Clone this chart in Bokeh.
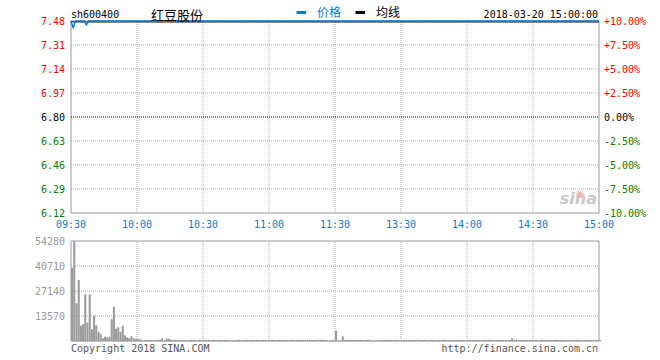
from bokeh.plotting import figure
from bokeh.models import (ColumnDataSource, LabelSet, Label, Legend, LegendItem,
                          Range1d)
from bokeh.embed import file_html
from bokeh.resources import INLINE
from bokeh.core.properties import value

# ---------------- data ----------------
symbol = "sh600400"
stock_name = "红豆股份"
stamp = "2018-03-20 15:00:00"
prev_close = 6.80

price_ticks = [7.48, 7.31, 7.14, 6.97, 6.80, 6.63, 6.46, 6.29, 6.12]
price_labels = ["7.48", "7.31", "7.14", "6.97", "6.80", "6.63", "6.46", "6.29", "6.12"]
pct_labels = ["+10.00%", "+7.50%", "+5.00%", "+2.50%", "0.00%",
              "-2.50%", "-5.00%", "-7.50%", "-10.00%"]
label_colors = ["#ff0000", "#ff0000", "#ff0000", "#ff0000", "#000000",
                "#008000", "#008000", "#008000", "#008000"]

time_ticks = [0, 30, 60, 90, 120, 150, 180, 210, 240]
time_labels = ["09:30", "10:00", "10:30", "11:00", "11:30", "13:30", "14:00", "14:30", "15:00"]

vol_ticks = [0, 13570, 27140, 40710, 54280]
vol_labels = ["", "13570", "27140", "40710", "54280"]

minutes = list(range(241))

price = [7.48, 7.43, 7.48, 7.48, 7.48, 7.48, 7.48, 7.45] + [7.48] * 233
avg_price = [7.476, 7.474] + [7.473] * 239

volume = [
    39600, 54000, 20250, 32950, 8140, 8850, 25130, 9770, 25130, 6130,
    13570, 8300, 4880, 3640, 1250, 2170, 1800, 2170, 11560, 18450,
    6510, 7220, 4880, 8140, 2880, 1800, 1450, 2350, 1250, 900,
    900, 850, 0, 400, 350, 400, 350, 0, 350, 400,
    350, 1250, 0, 1100, 1100, 400, 350, 400, 0, 350,
    400, 350, 0, 350, 400, 350, 350, 0, 400, 350,
    350, 400, 350, 0, 350, 350, 400, 350, 350, 400,
    350, 350, 400, 0, 0, 350, 400, 350, 350, 400,
    350, 400, 350, 350, 400, 350, 350, 400, 350, 0,
    350, 400, 350, 350, 400, 350, 350, 400, 350, 0,
    350, 400, 350, 350, 400, 350, 350, 0, 350, 400,
    350, 350, 400, 350, 350, 400, 0, 0, 350, 0,
    5430, 0, 0, 2330, 350, 400, 350, 350, 400, 350,
    350, 400, 350, 350, 400, 350, 0, 0, 0, 0,
    350, 400, 350, 350, 400, 350, 350, 400, 350, 0,
    350, 400, 350, 350, 400, 350, 350, 400, 350, 350,
    400, 350, 350, 400, 350, 0, 350, 400, 350, 350,
    400, 350, 350, 400, 350, 350, 400, 350, 350, 0,
    350, 400, 350, 350, 400, 350, 0, 350, 400, 350,
    350, 400, 350, 350, 400, 350, 350, 400, 350, 350,
    1300, 350, 400, 350, 350, 400, 350, 350, 400, 350,
    350, 400, 0, 350, 400, 350, 350, 400, 350, 350,
    400, 350, 350, 400, 350, 0, 350, 400, 350, 350,
    400, 350, 350, 400, 350, 350, 400, 350, 350, 400,
    350,
]

# ---------------- style / layout ----------------
BLUE = "#0d7bd0"
GRID = "#aaaaaa"
FRAME = "#999999"
MONO = "DejaVu Sans Mono"
CJK = "Noto Sans CJK SC"
W, H = 660, 360
PX_MIN = 2.2                       # pixels per minute
# frame edges in canvas pixels (half-pixel aligned so 1px lines stay crisp)
X_LEFT, PRICE_TOP, PRICE_BOT = 70.5, 20.5, 212.5
VOL_TOP, VOL_BOT = 240.5, 340.5

t0, t1 = time_ticks[0], time_ticks[-1]
p_hi, p_lo = price_ticks[0], price_ticks[-1]
v_hi, v_lo = vol_ticks[-1], vol_ticks[0]

p_ppu = (PRICE_BOT - PRICE_TOP) / (p_hi - p_lo)
v_ppu = (VOL_BOT - VOL_TOP) / (v_hi - v_lo)

p = figure(width=W, height=H,
           x_range=Range1d(t0 - X_LEFT / PX_MIN, t0 + (W - X_LEFT) / PX_MIN),
           y_range=Range1d(p_lo - (H - PRICE_BOT) / p_ppu, p_hi + PRICE_TOP / p_ppu),
           output_backend="svg", toolbar_location=None,
           min_border=0, outline_line_color=None,
           background_fill_color="white", border_fill_color="white")
p.extra_y_ranges = {"vol": Range1d(v_lo - (H - VOL_BOT) / v_ppu, v_hi + VOL_TOP / v_ppu)}
p.axis.visible = False
p.grid.visible = False

# ---- price panel ----
p.quad(left=[t0], right=[t1], bottom=[p_lo], top=[p_hi],
       fill_color=None, line_color=FRAME, line_width=1)
gx = time_ticks[1:-1]
p.segment(x0=gx, y0=[p_lo] * len(gx), x1=gx, y1=[p_hi] * len(gx),
          line_color=GRID, line_dash="1 1", line_width=1)
gy = [t for t in price_ticks[1:-1] if t != prev_close]
p.segment(x0=[t0] * len(gy), y0=gy, x1=[t1] * len(gy), y1=gy,
          line_color=GRID, line_dash="1 1", line_width=1)
p.segment(x0=[t0], y0=[prev_close], x1=[t1], y1=[prev_close],
          line_color="black", line_dash="1 1", line_width=1)

p.line(minutes, avg_price, color="black", line_width=1)
p.line(minutes, price, color=BLUE, line_width=1.5)

lbl_src = ColumnDataSource(dict(xl=[t0] * len(price_ticks), xr=[t1] * len(price_ticks),
                                y=price_ticks, pl=price_labels, pc=pct_labels, c=label_colors))
p.add_layout(LabelSet(x="xl", y="y", text="pl", source=lbl_src, text_color="c",
                      x_offset=-6, text_align="right", text_baseline="middle",
                      text_font=value(MONO), text_font_size="10px"))
p.add_layout(LabelSet(x="xr", y="y", text="pc", source=lbl_src, text_color="c",
                      x_offset=5, text_align="left", text_baseline="middle",
                      text_font=value(MONO), text_font_size="10px"))

t_src = ColumnDataSource(dict(x=time_ticks, y=[p_lo] * len(time_ticks), t=time_labels))
p.add_layout(LabelSet(x="x", y="y", text="t", source=t_src, text_color=BLUE,
                      y_offset=-11, text_align="center", text_baseline="middle",
                      text_font=value(MONO), text_font_size="10px"))

p.add_layout(Label(x=t0, y=p_hi, y_offset=7, text=symbol, text_align="left",
                   text_baseline="middle", text_font=MONO, text_font_size="10px",
                   text_color="black"))
p.add_layout(Label(x=t0, y=p_hi, x_offset=80, y_offset=7, text=stock_name, text_align="left",
                   text_baseline="middle", text_font=CJK, text_font_size="13px",
                   text_color="black"))
p.add_layout(Label(x=t1, y=p_hi, x_offset=-1, y_offset=7, text=stamp, text_align="right",
                   text_baseline="middle", text_font=MONO, text_font_size="10px",
                   text_color="black"))
p.add_layout(Label(x=t1, y=p_lo, x_offset=-2, y_offset=5, text="sina", text_align="right",
                   text_baseline="bottom", text_font="DejaVu Sans", text_font_size="16px",
                   text_font_style="bold italic", text_color="#c8c8c8"))
p.add_layout(Label(x=t1, y=p_lo, x_offset=-19, y_offset=20, text="◉", text_align="center",
                   text_baseline="middle", text_font="DejaVu Sans", text_font_size="10px",
                   text_color="#e8b4b4"))

nan = float("nan")
leg_price = p.line([t0, t0], [nan, nan], color=BLUE, line_width=3)
leg_avg = p.line([t0, t0], [nan, nan], color="black", line_width=3)
for r, lab, col, sx in ((leg_price, "价格", BLUE, 296), (leg_avg, "均线", "black", 355)):
    lg = Legend(items=[LegendItem(label=lab, renderers=[r])], location=(sx, H - 20),
                orientation="horizontal", glyph_width=10, glyph_height=14, label_height=14,
                label_standoff=11, padding=0, margin=0, spacing=0,
                border_line_alpha=0, background_fill_alpha=0,
                label_text_color=col, label_text_font=CJK, label_text_font_size="12px")
    p.add_layout(lg)

# ---- volume panel ----
p.quad(left=[t0], right=[t1], bottom=[v_lo], top=[v_hi], y_range_name="vol",
       fill_color=None, line_color=FRAME, line_width=1)
p.segment(x0=gx, y0=[v_lo] * len(gx), x1=gx, y1=[v_hi] * len(gx), y_range_name="vol",
          line_color=GRID, line_dash="1 1", line_width=1)
vg = vol_ticks[1:-1]
p.segment(x0=[t0] * len(vg), y0=vg, x1=[t1] * len(vg), y1=vg, y_range_name="vol",
          line_color=GRID, line_dash="1 1", line_width=1)

p.vbar(x=[m + 0.5 for m in minutes], top=volume, width=0.45, y_range_name="vol",
       color="#999999")

v_src = ColumnDataSource(dict(x=[t0] * len(vol_ticks), y=vol_ticks, t=vol_labels))
p.add_layout(LabelSet(x="x", y="y", text="t", source=v_src, y_range_name="vol",
                      text_color="#999999", x_offset=-6, text_align="right",
                      text_baseline="middle", text_font=value(MONO), text_font_size="10px"))

p.add_layout(Label(x=t0, y=v_lo, y_range_name="vol", y_offset=-7,
                   text="Copyright 2018 SINA.COM", text_align="left",
                   text_baseline="middle", text_font=MONO, text_font_size="10px",
                   text_color="#555555"))
p.add_layout(Label(x=t1, y=v_lo, y_range_name="vol", x_offset=-1, y_offset=-7,
                   text="http://finance.sina.com.cn",
                   text_align="right", text_baseline="middle", text_font=MONO,
                   text_font_size="10px", text_color="#555555"))

open("out.html", "w").write(file_html(p, INLINE))
